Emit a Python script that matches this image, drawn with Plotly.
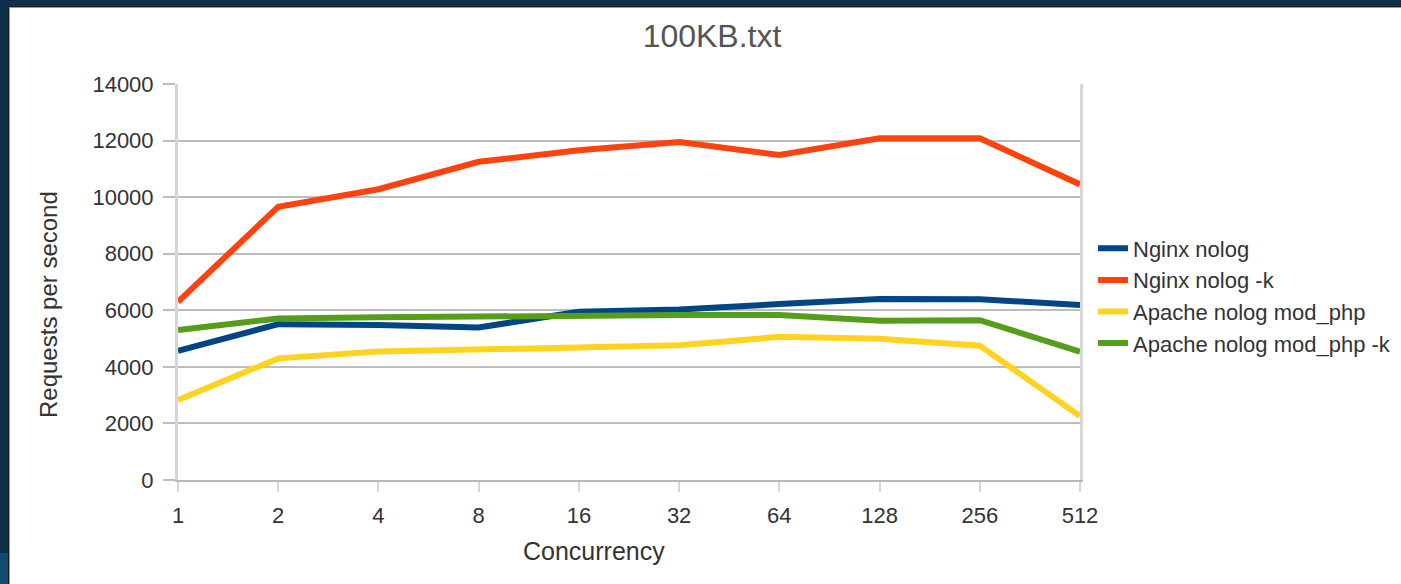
import plotly.graph_objects as go

concurrency = ["1", "2", "4", "8", "16", "32", "64", "128", "256", "512"]
nginx_nolog = [4570, 5510, 5480, 5390, 5950, 6030, 6220, 6400, 6390, 6190]
nginx_nolog_k = [6300, 9660, 10280, 11250, 11660, 11950, 11490, 12080, 12080, 10450]
apache_modphp = [2830, 4300, 4540, 4600, 4650, 4760, 5060, 4990, 4750, 2260]
apache_modphp_k = [5300, 5710, 5750, 5790, 5830, 5830, 5830, 5630, 5650, 4540]

series = [
    ("Nginx nolog", nginx_nolog, "#004586"),
    ("Nginx nolog -k", nginx_nolog_k, "#ff420e"),
    ("Apache nolog mod_php", apache_modphp, "#ffd320"),
    ("Apache nolog mod_php -k", apache_modphp_k, "#579d1c"),
]

W, H = 1401, 584
L, R, T, B = 178, 1080, 84, 480
PW, PH = R - L, B - T


def px(x):
    return (x - L) / PW


def py(y):
    return (B - y) / PH


FONT = "Liberation Sans, Arial, sans-serif"

fig = go.Figure()
for name, vals, col in series:
    fig.add_trace(go.Scatter(x=concurrency, y=vals, mode="lines", name=name,
                             line=dict(color=col, width=6)))

shapes = [
    dict(type="rect", xref="paper", yref="paper", layer="below",
         x0=px(0), x1=px(8), y0=py(553), y1=py(600),
         fillcolor="#124b6d", line=dict(width=0)),
    dict(type="rect", xref="paper", yref="paper", layer="below",
         x0=px(8), x1=px(1420), y0=py(600), y1=py(6),
         fillcolor="#1c1c1c", line=dict(width=0)),
    dict(type="rect", xref="paper", yref="paper", layer="below",
         x0=px(9), x1=px(1420), y0=py(600), y1=py(7),
         fillcolor="#9a9a9a", line=dict(width=0)),
    dict(type="rect", xref="paper", yref="paper", layer="below",
         x0=px(10), x1=px(1420), y0=py(600), y1=py(8),
         fillcolor="#ffffff", line=dict(width=0)),
]

annotations = [
    dict(text="Concurrency", xref="paper", yref="paper", x=px(594), y=py(551),
         xanchor="center", yanchor="middle", showarrow=False,
         font=dict(size=25, color="#333333", family=FONT)),
    dict(text="Requests per second", xref="paper", yref="paper", x=px(48), y=py(305),
         xanchor="center", yanchor="middle", showarrow=False, textangle=-90,
         font=dict(size=24, color="#333333", family=FONT)),
]

fig.update_layout(
    width=W, height=H,
    margin=dict(l=L, r=W - R, t=T, b=H - B, pad=0, autoexpand=False),
    paper_bgcolor="#0e3048",
    plot_bgcolor="#ffffff",
    shapes=shapes,
    annotations=annotations,
    font=dict(family=FONT, color="#333333"),
    title=dict(text="100KB.txt", x=712 / W, xanchor="center", y=1 - 36 / H,
               yanchor="middle", font=dict(size=32, color="#555555", family=FONT)),
    xaxis=dict(type="category", range=[0, 9], showgrid=False, automargin=False,
               showline=True, linecolor="#b8b8b8", linewidth=2,
               ticks="outside", ticklen=10, tickwidth=2, tickcolor="#d6d6d6",
               tickfont=dict(size=22, color="#333333"), ticklabelstandoff=5,
               zeroline=False),
    yaxis=dict(range=[0, 14000], dtick=2000, tickformat="d", automargin=False,
               showgrid=True, gridcolor="#bdbdbd", gridwidth=2,
               showline=True, linecolor="#d6d6d6", linewidth=3, mirror=True,
               ticks="outside", ticklen=12, tickwidth=2, tickcolor="#bdbdbd",
               tickfont=dict(size=22, color="#333333"), ticklabelstandoff=5,
               zeroline=False),
    legend=dict(x=px(1093), xanchor="left", y=py(296), yanchor="middle",
                bgcolor="rgba(0,0,0,0)", borderwidth=0,
                font=dict(size=22, color="#333333"), itemwidth=30,
                tracegroupgap=0),
    showlegend=True,
)

fig.write_html(
    "out.html",
    config={"displayModeBar": False},
    post_script="document.body.style.margin='0';document.body.style.overflow='hidden';",
)
